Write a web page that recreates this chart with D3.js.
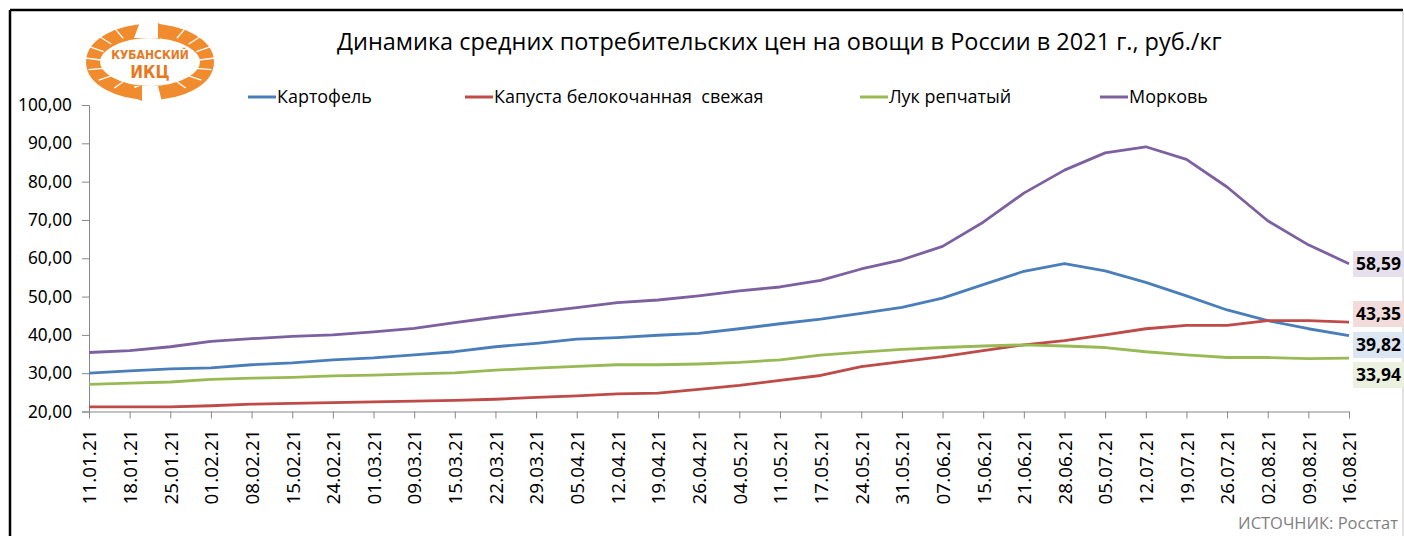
<!DOCTYPE html>
<html>
<head>
<meta charset="utf-8">
<script src="https://cdn.jsdelivr.net/npm/d3@7"></script>
<style>
  body { margin: 0; background: #fff; }
  svg { display: block; font-family: "Open Sans", "DejaVu Sans", sans-serif; }
</style>
</head>
<body>
<svg id="chart" width="1404" height="536"></svg>
<script>
// dates of observation
var dates = ["11.01.21","18.01.21","25.01.21","01.02.21","08.02.21","15.02.21","24.02.21","01.03.21",
  "09.03.21","15.03.21","22.03.21","29.03.21","05.04.21","12.04.21","19.04.21","26.04.21",
  "04.05.21","11.05.21","17.05.21","24.05.21","31.05.21","07.06.21","15.06.21","21.06.21",
  "28.06.21","05.07.21","12.07.21","19.07.21","26.07.21","02.08.21","09.08.21","16.08.21"];

var potato  = [30.0,30.6,31.1,31.4,32.2,32.7,33.5,34.0,34.8,35.6,36.9,37.8,38.9,39.3,39.9,40.4,
               41.6,42.9,44.1,45.6,47.2,49.6,53.1,56.6,58.6,56.7,53.7,50.2,46.5,43.7,41.6,39.82];
var cabbage = [21.2,21.2,21.2,21.5,21.9,22.1,22.3,22.5,22.7,22.9,23.2,23.7,24.1,24.6,24.8,25.8,
               26.8,28.1,29.4,31.7,33.0,34.3,35.9,37.4,38.5,40.0,41.6,42.5,42.5,43.7,43.7,43.35];
var onion   = [27.1,27.4,27.7,28.4,28.7,28.9,29.3,29.5,29.8,30.1,30.8,31.3,31.8,32.2,32.2,32.4,
               32.8,33.5,34.7,35.5,36.2,36.7,37.1,37.4,37.1,36.7,35.6,34.8,34.1,34.1,33.8,33.94];
var carrot  = [35.4,35.9,36.9,38.3,39.0,39.6,40.0,40.8,41.7,43.2,44.6,45.9,47.1,48.4,49.1,50.2,
               51.5,52.5,54.2,57.2,59.6,63.1,69.4,77.0,83.0,87.5,89.1,85.8,78.6,69.8,63.5,58.59];

var seriesNames = ["Картофель", "Капуста белокочанная  свежая", "Лук репчатый", "Морковь"];
var yTicks = [20,30,40,50,60,70,80,90,100];

var series = [
  {name: seriesNames[0], values: potato,  color: "#4A7EBB", light: "#DCE6F2"},
  {name: seriesNames[1], values: cabbage, color: "#BE4B48", light: "#F2DCDB"},
  {name: seriesNames[2], values: onion,   color: "#98B954", light: "#EBF1DE"},
  {name: seriesNames[3], values: carrot,  color: "#7D60A0", light: "#E6E0EC"}
];

var svg = d3.select("#chart");

// helper: size of font so that the first node of sel has width w
function fitSize(sel, w) {
  var l = sel.node().getComputedTextLength();
  var fs = parseFloat(sel.attr("font-size"));
  return +(fs * w / l).toFixed(2);
}
function fit(sel, w) {
  sel.attr("font-size", fitSize(sel, w));
}
var comma = function(d) { return d3.format(".2f")(d).replace(".", ","); };

// frame
svg.append("line").attr("x1", 10).attr("x2", 1403).attr("y1", 10).attr("y2", 10)
  .attr("stroke", "#000").attr("stroke-width", 2.5);
svg.append("line").attr("x1", 10).attr("x2", 10).attr("y1", 10).attr("y2", 536)
  .attr("stroke", "#000").attr("stroke-width", 2.5);
svg.append("line").attr("x1", 1403).attr("x2", 1403).attr("y1", 11).attr("y2", 536)
  .attr("stroke", "#d9d9d9").attr("stroke-width", 1.5);

// logo
var logo = svg.append("g").attr("transform", "translate(150,62)");
logo.append("ellipse").attr("rx", 57).attr("ry", 31)
  .attr("fill", "none").attr("stroke", "#F08B2E").attr("stroke-width", 14);
// gaps where the arrows are
logo.append("path").attr("d", "M-10,-40 L12,-40 L8,-24 L-16,-24 Z").attr("fill", "#fff");
logo.append("path").attr("d", "M-16,24 L8,24 L12,40 L-10,40 Z").attr("fill", "#fff");
// arrow heads
logo.append("path").attr("d", "M8,-39 L26,-31 L8,-23 Z").attr("fill", "#F08B2E");
logo.append("path").attr("d", "M-8,39 L-26,31 L-8,23 Z").attr("fill", "#F08B2E");
// stripes like grain
d3.range(-3, 4).forEach(function(i) {
  var a = i * 0.33;
  [-1, 1].forEach(function(s) {
    var cx = s * 57 * Math.cos(a), cy = 31 * Math.sin(a);
    logo.append("line")
      .attr("x1", cx - s * 8 * Math.cos(a)).attr("y1", cy - 5 * Math.sin(a) - 2)
      .attr("x2", cx + s * 8 * Math.cos(a)).attr("y2", cy + 5 * Math.sin(a) - 4)
      .attr("stroke", "#fff").attr("stroke-width", 1.3);
  });
});
logo.append("text").attr("x", 0).attr("y", -3).attr("text-anchor", "middle")
  .attr("font-size", 12).attr("font-weight", "bold").attr("fill", "#E8791F")
  .attr("font-family", "'Liberation Sans Narrow', 'DejaVu Sans Condensed', sans-serif")
  .text("КУБАНСКИЙ");
logo.append("text").attr("x", 0).attr("y", 16).attr("text-anchor", "middle")
  .attr("font-size", 17).attr("font-weight", "bold").attr("fill", "#E8791F")
  .attr("font-family", "'Liberation Sans Narrow', 'DejaVu Sans Condensed', sans-serif")
  .text("ИКЦ");

// title
var title = svg.append("text").attr("x", 337).attr("y", 50)
  .attr("font-size", 21).attr("fill", "#000")
  .text("Динамика средних потребительских цен на овощи в России в 2021 г., руб./кг");
fit(title, 885);

// scales
var x = d3.scalePoint().domain(dates).range([89, 1349]);
var y = d3.scaleLinear().domain([20, 100]).range([411.5, 105]);

// y axis
var yAxis = svg.append("g").attr("transform", "translate(89,0)")
  .call(d3.axisLeft(y).tickValues(yTicks).tickSize(7).tickPadding(10).tickFormat(comma));
yAxis.select(".domain").attr("stroke", "#888");
yAxis.selectAll(".tick line").attr("stroke", "#888");
var yText = yAxis.selectAll("text").attr("font-size", 15.5).attr("fill", "#000")
  .attr("font-family", "'Noto Sans', sans-serif");
yText.attr("font-size", fitSize(yAxis.selectAll(".tick:last-of-type text"), 54));

// x axis
var xAxis = svg.append("g").attr("transform", "translate(0,411.5)")
  .call(d3.axisBottom(x).tickSize(7).tickSizeOuter(0));
xAxis.select(".domain").attr("stroke", "#888");
xAxis.selectAll(".tick line").attr("stroke", "#888");
var xText = xAxis.selectAll("text")
  .attr("font-size", 15.5).attr("fill", "#000")
  .attr("font-family", "'Noto Sans', sans-serif")
  .attr("transform", "rotate(-90)")
  .attr("text-anchor", "end")
  .attr("x", -18).attr("y", 0).attr("dy", "0.36em");
xText.attr("font-size", fitSize(xText, 75));

// lines
var line = d3.line()
  .x(function(d, i) { return x(dates[i]); })
  .y(function(d) { return y(d); });

svg.selectAll(".series")
  .data(series)
  .join("path")
  .attr("class", "series")
  .attr("fill", "none")
  .attr("stroke", function(d) { return d.color; })
  .attr("stroke-width", 2.8)
  .attr("stroke-linejoin", "round")
  .attr("d", function(d) { return line(d.values); });

// end labels
var labelY = [345, 314, 375, 264];
var endTexts = [];
series.forEach(function(s, i) {
  var g = svg.append("g").attr("transform", "translate(1353," + labelY[i] + ")");
  g.append("rect").attr("x", 0).attr("y", -13).attr("width", 51).attr("height", 26)
    .attr("fill", s.light);
  endTexts.push(g.append("text").attr("x", 3).attr("y", 0).attr("dy", "0.36em")
    .attr("font-size", 15.5).attr("font-weight", "bold").attr("fill", "#000")
    .attr("font-family", "'Noto Sans', sans-serif")
    .text(comma(s.values[s.values.length - 1])));
});
var endSize = fitSize(endTexts[3], 45);
endTexts.forEach(function(t) { t.attr("font-size", endSize); });

// legend
var legendX = [248, 465, 860, 1100];
var legTexts = [];
series.forEach(function(s, i) {
  var g = svg.append("g").attr("transform", "translate(" + legendX[i] + ",97)");
  g.append("line").attr("x1", 0).attr("x2", 28).attr("y1", 0).attr("y2", 0)
    .attr("stroke", s.color).attr("stroke-width", 3);
  legTexts.push(g.append("text").attr("x", 29).attr("y", 0).attr("dy", "0.35em")
    .attr("font-size", 16).attr("fill", "#000")
    .style("white-space", "pre")
    .text(s.name));
});
var legSize = fitSize(legTexts[0], 95);
legTexts.forEach(function(t) { t.attr("font-size", legSize); });

// source
var src = svg.append("text").attr("x", 1398).attr("y", 529).attr("text-anchor", "end")
  .attr("font-size", 15).attr("fill", "#7f7f7f")
  .text("ИСТОЧНИК: Росстат");
fit(src, 160);
</script>
</body>
</html>
